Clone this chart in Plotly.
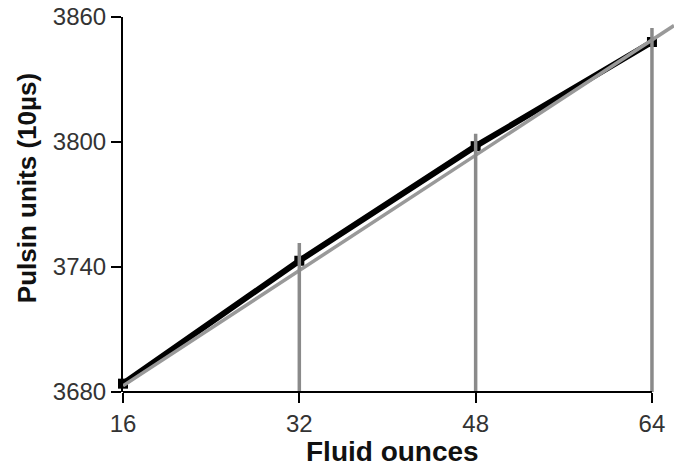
import plotly.graph_objects as go

# Data
ounces = [16, 32, 48, 64]
pulsin = [3684, 3743, 3798, 3848]
bar_top = [3680, 3751.5, 3804, 3854.7]
bar_base = 3680
fit_x = [16, 66]
fit_y = [3683, 3855.9]
x_ticks = [16, 32, 48, 64]
y_ticks = [3680, 3740, 3800, 3860]

FONT = "Liberation Sans, Arial, sans-serif"

fig = go.Figure()

# black measured line
fig.add_trace(go.Scatter(
    x=ounces, y=pulsin, mode="lines+markers",
    line=dict(color="black", width=6),
    marker=dict(symbol="square", size=10, color="black"),
    cliponaxis=False, showlegend=False, hoverinfo="skip"))

# gray fit line
fig.add_trace(go.Scatter(
    x=fit_x, y=fit_y, mode="lines",
    line=dict(color="#999999", width=3.5),
    showlegend=False, hoverinfo="skip"))

# gray vertical lines
vx, vy = [], []
for x, t in zip(ounces, bar_top):
    if t > bar_base:
        vx += [x, x, None]
        vy += [bar_base, t, None]
fig.add_trace(go.Scatter(
    x=vx, y=vy, mode="lines",
    line=dict(color="#8a8a8a", width=3.5),
    showlegend=False, hoverinfo="skip"))

fig.update_layout(
    width=674, height=468,
    margin=dict(l=123, r=0, t=17, b=76),
    paper_bgcolor="white", plot_bgcolor="white",
    font=dict(family=FONT, color="#333333", size=24),
    xaxis=dict(range=[16, 66], tickvals=x_ticks, ticktext=[str(v) for v in x_ticks],
               ticks="outside", ticklen=10, tickwidth=2, tickcolor="black",
               showline=False, showgrid=False, zeroline=False, automargin=False,
               ticklabeloverflow="allow",
               tickfont=dict(family=FONT, size=24, color="#333333")),
    yaxis=dict(range=[3680, 3860], tickvals=y_ticks, ticktext=[str(v) for v in y_ticks],
               ticks="outside", ticklen=10, tickwidth=2, tickcolor="black",
               showline=True, linewidth=2, linecolor="black",
               showgrid=False, zeroline=False, automargin=False,
               ticklabeloverflow="allow",
               tickfont=dict(family=FONT, size=24, color="#333333")),
    shapes=[dict(type="line", xref="x", yref="paper", x0=16, x1=64, y0=0, y1=0,
                 line=dict(color="black", width=2))],
    annotations=[
        dict(text="<b>Fluid ounces</b>", xref="paper", yref="paper",
             x=0.49, y=-0.16, xanchor="center", yanchor="middle", showarrow=False,
             font=dict(family=FONT, size=28, color="#111111")),
        dict(text="<b>Pulsin units (10µs)</b>", xref="paper", yref="paper",
             x=-0.174, y=0.544, xanchor="center", yanchor="middle", showarrow=False,
             textangle=-90, font=dict(family=FONT, size=26, color="#111111")),
    ],
)

fig.write_html("out.html",
               config={"displayModeBar": False},
               post_script="document.body.style.margin='0';document.body.style.overflow='hidden';")
